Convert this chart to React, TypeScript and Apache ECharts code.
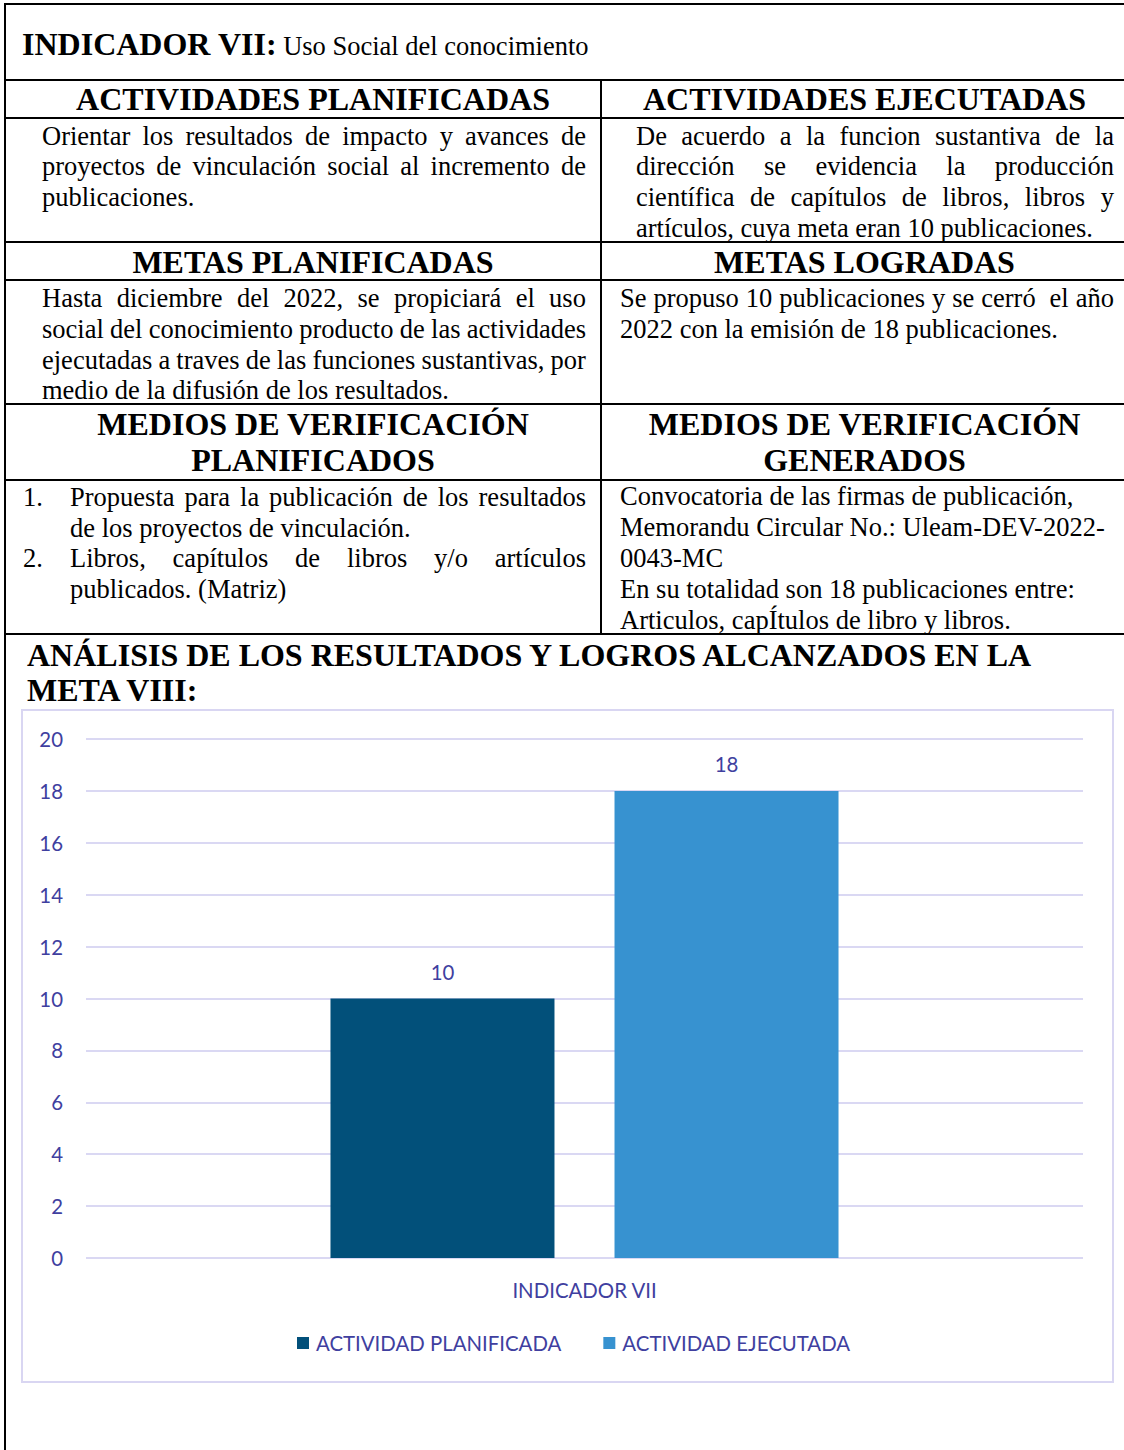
import React, { useEffect, useRef } from "react";
import * as echarts from "echarts";

// ---- Chart data ----
const categories = ["INDICADOR VII"];
const seriesNames = ["ACTIVIDAD PLANIFICADA", "ACTIVIDAD EJECUTADA"];
const planificada = [10];
const ejecutada = [18];
const yMin = 0;
const yMax = 20;
const yInterval = 2;

const SERIF = '"Liberation Serif", "Times New Roman", serif';
const SANS = 'Lato, "Open Sans", sans-serif';
const AXIS_COLOR = "#403f9f";
const GRID_COLOR = "#dad8f3";

type LineProps = {
  x: number;
  y: number; // visual center
  w?: number;
  text: string;
  justify?: boolean;
  bold?: boolean;
  size?: number;
  center?: boolean;
};

function Line({ x, y, w, text, justify, bold, size, center }: LineProps) {
  const f = size || 26.5;
  const lh = f * 1.155;
  const off = (lh - 1.107 * f) / 2 + 0.891 * f - 0.33 * f;
  const base: React.CSSProperties = {
    position: "absolute",
    left: x,
    top: y - off,
    width: w,
    fontFamily: SERIF,
    fontSize: f,
    lineHeight: lh + "px",
    height: lh,
    fontWeight: bold ? 700 : 400,
    color: "#000",
    whiteSpace: "pre",
  };
  if (justify) {
    const words = text.split(" ");
    return (
      <div
        style={{
          ...base,
          display: "flex",
          justifyContent: "space-between",
          columnGap: 3,
        }}
      >
        {words.map((wd, i) => (
          <span key={i}>{wd}</span>
        ))}
      </div>
    );
  }
  return <div style={{ ...base, textAlign: center ? "center" : "left" }}>{text}</div>;
}

function HLine({ y }: { y: number }) {
  return (
    <div
      style={{ position: "absolute", left: 4, top: y - 1, width: 1124, height: 2, background: "#000" }}
    />
  );
}

function VLine({ x, y1, y2 }: { x: number; y1: number; y2: number }) {
  return (
    <div
      style={{ position: "absolute", left: x - 1, top: y1, width: 2, height: y2 - y1, background: "#000" }}
    />
  );
}

function Chart() {
  const ref = useRef<HTMLDivElement>(null);
  useEffect(() => {
    if (!ref.current) return;
    const chart = echarts.init(ref.current, null, { renderer: "svg" });
    const labelStyle = { color: AXIS_COLOR, fontFamily: SANS, fontSize: 20.4 };
    chart.setOption({
      animation: false,
      textStyle: { fontFamily: SANS },
      grid: { left: 65, right: 31, top: 30, bottom: 125, containLabel: false },
      legend: {
        data: seriesNames,
        left: 271,
        top: 619,
        itemWidth: 12,
        itemHeight: 12,
        itemGap: 42,
        textStyle: { ...labelStyle, padding: [0, 0, 0, 2] },
        icon: "rect",
      },
      xAxis: {
        type: "category",
        data: categories,
        axisLine: { show: false },
        axisTick: { show: false },
        axisLabel: { ...labelStyle, margin: 22 },
      },
      yAxis: {
        type: "value",
        min: yMin,
        max: yMax,
        interval: yInterval,
        axisLine: { show: false },
        axisTick: { show: false },
        axisLabel: { ...labelStyle, margin: 23 },
        splitLine: { lineStyle: { color: GRID_COLOR, width: 2 } },
      },
      series: [
        {
          name: seriesNames[0],
          type: "bar",
          data: planificada,
          barWidth: 224,
          barGap: "26.8%",
          itemStyle: { color: "#02507a" },
          label: { show: true, position: "top", distance: 17, ...labelStyle },
        },
        {
          name: seriesNames[1],
          type: "bar",
          data: ejecutada,
          barWidth: 224,
          barGap: "26.8%",
          itemStyle: { color: "#3792d0" },
          label: { show: true, position: "top", distance: 17, ...labelStyle },
        },
      ],
    });
    return () => chart.dispose();
  }, []);
  return (
    <div style={{ position: "absolute", left: 21, top: 709, width: 1093, height: 674 }}>
      <div ref={ref} style={{ position: "absolute", left: 0, top: 0, width: 1093, height: 674 }} />
      <div
        style={{
          position: "absolute",
          left: 0,
          top: 0,
          width: 1093,
          height: 674,
          boxSizing: "border-box",
          border: "2px solid #d9d6f2",
          pointerEvents: "none",
        }}
      />
    </div>
  );
}

export default function App() {
  const L = 42;
  const LW = 586 - 42;
  const R1 = 636;
  const R1W = 1114 - 636;
  const R2 = 620;
  const R2W = 1114 - 620;
  const HL = 25;
  const HLW = 576;
  const HR = 603;
  const HRW = 523;
  return (
    <div
      style={{
        position: "absolute",
        left: 0,
        top: 0,
        width: 1124,
        height: 1450,
        overflow: "hidden",
        background: "#fff",
      }}
    >
      {/* table lines */}
      <VLine x={5} y1={3} y2={1450} />
      <VLine x={601} y1={80} y2={634} />
      {[4, 80, 118, 242, 280, 404, 480, 634].map((y) => (
        <HLine key={y} y={y} />
      ))}

      {/* Title */}
      <div
        style={{
          position: "absolute",
          left: 22,
          top: 24,
          fontFamily: SERIF,
          whiteSpace: "pre",
          lineHeight: "40px",
        }}
      >
        <span style={{ fontSize: 32, fontWeight: 700 }}>INDICADOR VII:</span>
        <span style={{ fontSize: 26.5 }}> Uso Social del conocimiento</span>
      </div>

      {/* Headers row 1 */}
      <Line x={HL} w={HLW} y={100} text="ACTIVIDADES PLANIFICADAS" bold size={32} center />
      <Line x={HR} w={HRW} y={100} text="ACTIVIDADES EJECUTADAS" bold size={32} center />

      {/* Row 1 content */}
      <Line x={L} w={LW} y={137} text="Orientar los resultados de impacto y avances de" justify />
      <Line x={L} w={LW} y={167} text="proyectos de vinculación social al incremento de" justify />
      <Line x={L} y={198} text="publicaciones." />

      <Line x={R1} w={R1W} y={137} text="De acuerdo a la funcion sustantiva de la" justify />
      <Line x={R1} w={R1W} y={167} text="dirección se evidencia la producción" justify />
      <Line x={R1} w={R1W} y={198} text="científica de capítulos de libros, libros y" justify />
      <Line x={R1} y={229} text="artículos, cuya meta eran 10 publicaciones." />

      {/* Headers row 2 */}
      <Line x={HL} w={HLW} y={263} text="METAS PLANIFICADAS" bold size={32} center />
      <Line x={HR} w={HRW} y={263} text="METAS LOGRADAS" bold size={32} center />

      {/* Row 2 content */}
      <Line x={L} w={LW} y={299} text="Hasta diciembre del 2022, se propiciará el uso" justify />
      <Line x={L} w={LW} y={330} text="social del conocimiento producto de las actividades" justify />
      <Line x={L} w={LW} y={361} text="ejecutadas a traves de las funciones sustantivas, por" justify />
      <Line x={L} y={391} text="medio de la difusión de los resultados." />

      <Line x={R2} w={R2W} y={299} text="Se propuso 10 publicaciones y se cerró  el año" justify />
      <Line x={R2} y={330} text="2022 con la emisión de 18 publicaciones." />

      {/* Headers row 3 */}
      <Line x={HL} w={HLW} y={425} text="MEDIOS DE VERIFICACIÓN" bold size={32} center />
      <Line x={HL} w={HLW} y={461} text="PLANIFICADOS" bold size={32} center />
      <Line x={HR} w={HRW} y={425} text="MEDIOS DE VERIFICACIÓN" bold size={32} center />
      <Line x={HR} w={HRW} y={461} text="GENERADOS" bold size={32} center />

      {/* Row 3 content */}
      <Line x={23} y={498} text="1." />
      <Line x={70} w={586 - 70} y={498} text="Propuesta para la publicación de los resultados" justify />
      <Line x={70} y={529} text="de los proyectos de vinculación." />
      <Line x={23} y={559} text="2." />
      <Line x={70} w={586 - 70} y={559} text="Libros, capítulos de libros y/o artículos" justify />
      <Line x={70} y={590} text="publicados. (Matriz)" />

      <Line x={R2} y={497} text="Convocatoria de las firmas de publicación," />
      <Line x={R2} y={528} text="Memorandu Circular No.: Uleam-DEV-2022-" />
      <Line x={R2} y={559} text="0043-MC" />
      <Line x={R2} y={590} text="En su totalidad son 18 publicaciones entre:" />
      <Line x={R2} y={621} text="Articulos, capÍtulos de libro y libros." />

      {/* Analysis title */}
      <Line x={27} y={656} text="ANÁLISIS DE LOS RESULTADOS Y LOGROS ALCANZADOS EN LA" bold size={32} />
      <Line x={27} y={691} text="META VIII:" bold size={32} />

      <Chart />
    </div>
  );
}
